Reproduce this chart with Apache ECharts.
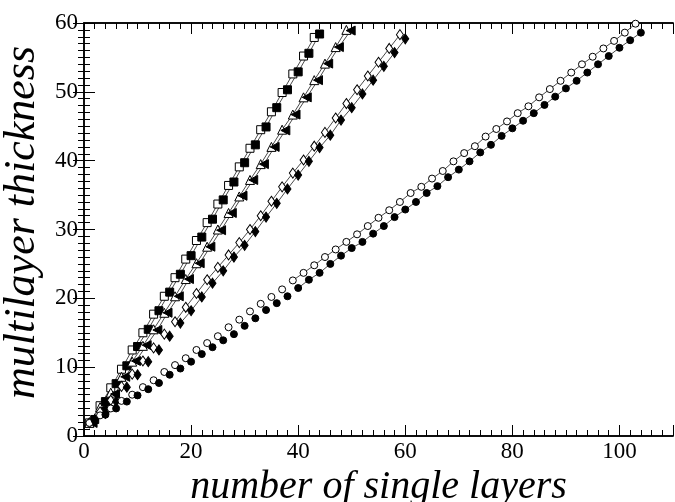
<!DOCTYPE html>
<html>
<head>
<meta charset="utf-8">
<script src="https://cdn.jsdelivr.net/npm/echarts@6/dist/echarts.min.js"></script>
<style>
  html, body { margin: 0; padding: 0; background: #fff; }
  #chart { width: 675px; height: 502px; }
</style>
</head>
<body>
<div id="chart"></div>
<script>
// Multilayer thickness versus number of single layers, four film families,
// each measured in two variants (open and filled markers).

const squareOpenX = [1, 3, 5, 7, 9, 11, 13, 15, 17, 19, 21, 23, 25, 27, 29, 31, 33, 35, 37, 39, 41, 43];
const squareOpenY = [1.9, 4.4, 7.0, 9.7, 12.5, 15.0, 17.7, 20.3, 23.0, 25.7, 28.4, 31.0, 33.7, 36.4, 39.1, 41.8, 44.5, 47.1, 49.9, 52.6, 55.2, 57.9];
const squareFilledX = [2, 4, 6, 8, 10, 12, 14, 16, 18, 20, 22, 24, 26, 28, 30, 32, 34, 36, 38, 40, 42, 44];
const squareFilledY = [2.4, 5.0, 7.6, 10.2, 13.0, 15.5, 18.2, 20.9, 23.5, 26.2, 28.9, 31.5, 34.3, 36.9, 39.7, 42.3, 44.9, 47.7, 50.3, 52.9, 55.6, 58.4];

const triangleOpenX = [1, 3, 5, 7, 9, 11, 13, 15, 17, 19, 21, 23, 25, 27, 29, 31, 33, 35, 37, 39, 41, 43, 45, 47, 49];
const triangleOpenY = [1.9, 4.2, 6.3, 8.6, 10.8, 13.1, 15.5, 17.9, 20.3, 22.8, 25.1, 27.5, 30.0, 32.4, 34.8, 37.2, 39.5, 42.0, 44.5, 46.7, 49.2, 51.7, 54.1, 56.5, 59.0];
const triangleFilledX = [1.6, 3.8, 5.8, 7.7, 9.7, 11.7, 13.7, 15.6, 17.7, 19.6, 21.6, 23.6, 25.6, 27.6, 29.6, 31.6, 33.6, 35.6, 37.6, 39.5, 41.6, 43.7, 45.6, 47.6, 49.8];
const triangleFilledY = [1.9, 4.0, 6.1, 8.6, 10.9, 13.2, 15.4, 17.9, 20.3, 22.8, 25.1, 27.5, 29.9, 32.4, 34.9, 37.2, 39.5, 42.0, 44.4, 46.7, 49.2, 51.7, 54.1, 56.5, 58.9];

const diamondOpenX = [1, 3, 5, 7, 9, 11, 13, 15, 17, 19, 21, 23, 25, 27, 29, 31, 33, 35, 37, 39, 41, 43, 45, 47, 49, 51, 53, 55, 57, 59];
const diamondOpenY = [1.9, 3.5, 5.2, 7.2, 9.0, 10.9, 12.8, 14.8, 16.6, 18.7, 20.7, 22.7, 24.5, 26.3, 28.1, 30.0, 32.0, 34.1, 36.2, 38.2, 40.1, 42.1, 44.1, 46.2, 48.3, 50.3, 52.3, 54.3, 56.3, 58.3];
const diamondFilledX = [2, 4, 6, 8, 10, 12, 14, 16, 18, 20, 22, 24, 26, 28, 30, 32, 34, 36, 38, 40, 42, 44, 46, 48, 50, 52, 54, 56, 58, 60];
const diamondFilledY = [2.4, 3.3, 5.0, 7.1, 8.9, 10.8, 12.5, 14.5, 16.4, 18.2, 20.2, 22.2, 24.0, 26.0, 27.7, 29.7, 31.8, 33.8, 35.9, 37.9, 39.9, 41.9, 43.7, 45.9, 47.7, 49.7, 51.7, 53.7, 55.7, 57.7];

const circleOpenX = [1, 3, 5, 7, 9, 11, 13, 15, 17, 19, 21, 23, 25, 27, 29, 31, 33, 35, 37, 39, 41, 43, 45, 47, 49, 51, 53, 55, 57, 59, 61, 63, 65, 67, 69, 71, 73, 75, 77, 79, 81, 83, 85, 87, 89, 91, 93, 95, 97, 99, 101, 103];
const circleOpenY = [1.9, 3.0, 4.0, 5.1, 6.0, 7.1, 8.1, 9.3, 10.3, 11.3, 12.5, 13.5, 14.5, 15.8, 16.9, 18.1, 19.2, 20.2, 21.3, 22.6, 23.7, 24.8, 26.0, 27.1, 28.2, 29.3, 30.5, 31.7, 32.8, 34.0, 35.3, 36.2, 37.4, 38.5, 39.9, 41.1, 42.1, 43.5, 44.6, 45.7, 46.9, 47.9, 49.2, 50.4, 51.6, 52.8, 54.0, 55.1, 56.3, 57.4, 58.6, 59.9];
const circleFilledX = [2, 4, 6, 8, 10, 12, 14, 16, 18, 20, 22, 24, 26, 28, 30, 32, 34, 36, 38, 40, 42, 44, 46, 48, 50, 52, 54, 56, 58, 60, 62, 64, 66, 68, 70, 72, 74, 76, 78, 80, 82, 84, 86, 88, 90, 92, 94, 96, 98, 100, 102, 104];
const circleFilledY = [2.3, 3.1, 4.0, 5.0, 5.9, 6.8, 7.7, 8.9, 9.8, 10.8, 11.9, 12.9, 13.9, 14.8, 16.0, 17.1, 18.3, 19.3, 20.3, 21.5, 22.7, 23.7, 25.0, 26.2, 27.3, 28.2, 29.4, 30.5, 31.8, 32.9, 34.0, 35.3, 36.3, 37.6, 38.7, 39.9, 41.2, 42.3, 43.6, 44.7, 45.8, 46.9, 48.1, 49.3, 50.5, 51.6, 52.8, 54.0, 55.2, 56.4, 57.5, 58.6];

const xTickLabels = [0, 20, 40, 60, 80, 100];
const yTickLabels = [0, 10, 20, 30, 40, 50, 60];

const SERIF = "'Liberation Serif', 'DejaVu Serif', serif";

function pairs(xs, ys) {
  return xs.map((x, i) => [x, ys[i]]);
}

// marker style per curve; lineFrom = index of the first point joined by the line
const curves = [
  { name: 'squares open',     xs: squareOpenX,    ys: squareOpenY,    symbol: 'rect',     size: 8, rotate: 0,  filled: false, lineFrom: 0 },
  { name: 'squares filled',   xs: squareFilledX,  ys: squareFilledY,  symbol: 'rect',     size: 8, rotate: 0,  filled: true,  lineFrom: 0 },
  { name: 'triangles open',   xs: triangleOpenX,  ys: triangleOpenY,  symbol: 'triangle', size: 9, rotate: 0,  filled: false, lineFrom: 0 },
  { name: 'triangles filled', xs: triangleFilledX,ys: triangleFilledY,symbol: 'triangle', size: 9, rotate: 90, filled: true,  lineFrom: 0 },
  { name: 'diamonds open',    xs: diamondOpenX,   ys: diamondOpenY,   symbol: 'diamond',  size: [7, 10], rotate: 0, filled: false, lineFrom: 8 },
  { name: 'diamonds filled',  xs: diamondFilledX, ys: diamondFilledY, symbol: 'diamond',  size: [7, 10], rotate: 0, filled: true,  lineFrom: 8 },
  { name: 'circles open',     xs: circleOpenX,    ys: circleOpenY,    symbol: 'circle',   size: 7, rotate: 0,  filled: false, lineFrom: 19 },
  { name: 'circles filled',   xs: circleFilledX,  ys: circleFilledY,  symbol: 'circle',   size: 7, rotate: 0,  filled: true,  lineFrom: 19 }
];

const series = [];
curves.forEach(c => {
  const data = pairs(c.xs, c.ys);
  series.push({
    name: c.name + ' line',
    type: 'line',
    data: data.slice(c.lineFrom),
    symbol: 'none',
    lineStyle: { color: '#4a4a4a', width: 1 },
    z: 2,
    silent: true,
    animation: false
  });
});
curves.forEach(c => {
  series.push({
    name: c.name,
    type: 'scatter',
    data: pairs(c.xs, c.ys),
    symbol: c.symbol,
    symbolSize: c.size,
    symbolRotate: c.rotate,
    itemStyle: {
      color: c.filled ? '#000' : '#fff',
      borderColor: '#000',
      borderWidth: 1,
      opacity: 1
    },
    z: 3,
    silent: true,
    animation: false
  });
});

const axisLine = { show: true, lineStyle: { color: '#000', width: 1.5 } };

function xAxisBase(position, major, withLabels) {
  return {
    type: 'value',
    position: position,
    min: 0,
    max: 110,
    interval: major ? 20 : 2,
    axisLine: axisLine,
    axisTick: { show: true, inside: true, length: major ? 11 : 6, lineStyle: { color: '#000', width: 1 } },
    axisLabel: withLabels ? {
      show: true,
      margin: 4,
      fontFamily: SERIF,
      fontSize: 23,
      color: '#000',
      formatter: v => (xTickLabels.indexOf(v) >= 0 ? String(v) : '')
    } : { show: false },
    splitLine: { show: false }
  };
}

function yAxisBase(position, withLabels) {
  return {
    type: 'value',
    position: position,
    min: 0,
    max: 60,
    interval: 10,
    axisLine: axisLine,
    axisTick: { show: true, inside: true, length: 11, lineStyle: { color: '#000', width: 1 } },
    minorTick: { show: true, splitNumber: 10, length: 6, lineStyle: { color: '#000', width: 1 } },
    axisLabel: withLabels ? {
      show: true,
      margin: 6,
      fontFamily: SERIF,
      fontSize: 23,
      color: '#000',
      formatter: v => (yTickLabels.indexOf(v) >= 0 ? String(v) : '')
    } : { show: false },
    splitLine: { show: false },
    minorSplitLine: { show: false }
  };
}

const xMain = Object.assign(xAxisBase('bottom', true, true), {
  name: 'number of single layers',
  nameLocation: 'middle',
  nameGap: 18,
  nameTextStyle: { fontFamily: SERIF, fontStyle: 'italic', fontSize: 40, color: '#000' }
});
const yMain = Object.assign(yAxisBase('left', true), {
  name: 'multilayer thickness',
  nameLocation: 'middle',
  nameGap: 27,
  nameTextStyle: { fontFamily: SERIF, fontStyle: 'italic', fontSize: 44, color: '#000', padding: [0, 0, 0, 14] }
});

const option = {
  backgroundColor: '#fff',
  animation: false,
  grid: { left: 84, right: 2, top: 23, bottom: 66, containLabel: false, outerBoundsMode: 'none' },
  xAxis: [
    xMain,
    xAxisBase('bottom', false, false),
    xAxisBase('top', true, false),
    xAxisBase('top', false, false)
  ],
  yAxis: [
    yMain,
    yAxisBase('right', false)
  ],
  series: series
};

const chart = echarts.init(document.getElementById('chart'), null, { renderer: 'canvas' });
chart.setOption(option);
</script>
</body>
</html>
